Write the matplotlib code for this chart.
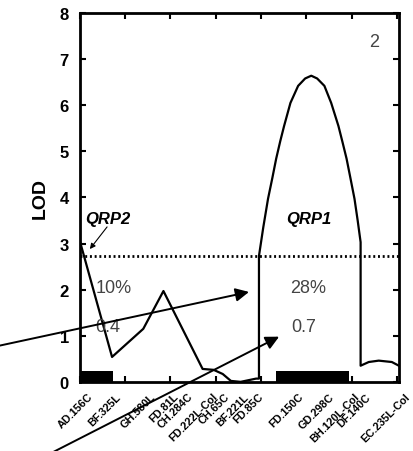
import matplotlib
matplotlib.use("Agg")
import matplotlib.pyplot as plt

plt.rcParams['font.family'] = ['Liberation Sans', 'DejaVu Sans']

# LOD profile (position in cM, LOD score)
pos = [0, 14.2, 28, 36.9, 54.2, 59.1, 63.1, 66.7, 71, 77.8, 79.1,
       79.1, 81, 83.1, 85, 86.7, 88.5, 90.2, 93, 96.4, 99.5, 102.2, 104.8,
       108, 111, 114.2, 116, 117.8, 119.5, 121.3, 122.7, 124,
       124, 127.6, 132, 137.8, 140.9]
lod = [3.05, 0.54, 1.15, 1.97, 0.28, 0.26, 0.17, 0.02, 0.0, 0.07, 0.07,
       2.73, 3.35, 3.97, 4.42, 4.84, 5.22, 5.55, 6.05, 6.42, 6.58, 6.64, 6.58,
       6.42, 6.05, 5.55, 5.2, 4.84, 4.42, 3.97, 3.5, 3.03,
       0.35, 0.43, 0.46, 0.43, 0.35]

markers = ["AD.156C", "BF.325L", "GH.580L", "FD.81L", "CH.284C", "FD.222L-Col",
           "CH.65C", "BF.221L", "FD.85C", "FD.150C", "GD.298C", "BH.120L-Col",
           "DF.140C", "EC.235L-Col"]
marker_pos = [3.5, 15.6, 31, 41, 47.5, 58.7, 63.6, 72.4, 78.7, 96.4, 110, 121,
              126, 143.3]

threshold = 2.73
qtl_bars = [(0, 14.7), (86.7, 118.7)]  # support intervals (start, end) cM

fig = plt.figure(figsize=(4.14, 4.52), dpi=100)
ax = fig.add_axes([0.193, 0.153, 0.771, 0.816])

ax.plot(pos, lod, color='black', lw=1.6)
ax.axhline(threshold, color='black', lw=2, linestyle=(0, (0.7, 1.0)))
for a, b in qtl_bars:
    ax.fill_between([a, b], 0, 0.24, color='black', lw=0)

ax.set_xlim(0, 141)
ax.set_ylim(0, 8)
ax.set_xticks(range(0, 141, 20))
ax.set_xticklabels([])
ax.set_yticks(range(0, 9))
ax.tick_params(direction='in', length=4, width=1.5, top=True, right=True,
               labelsize=12, pad=8)
for t in ax.get_yticklabels():
    t.set_fontweight('bold')
for s in ax.spines.values():
    s.set_linewidth(2)
ax.set_ylabel("LOD", fontsize=14, fontweight='bold', labelpad=8)

for name, x in zip(markers, marker_pos):
    ax.text(x, -0.2, name, rotation=45, ha='right', va='top',
            rotation_mode='anchor', fontsize=7.8, fontweight='bold',
            clip_on=False)

ax.text(12.2, 3.55, "QRP2", fontsize=12, fontweight='bold', style='italic',
        ha='center', va='center')
ax.text(101, 3.55, "QRP1", fontsize=12, fontweight='bold', style='italic',
        ha='center', va='center')
ax.annotate("", xy=(4.4, 2.88), xytext=(12, 3.36),
            arrowprops=dict(arrowstyle='-|>', color='black', lw=0.8,
                            mutation_scale=8, shrinkA=0, shrinkB=0))

grey = '#444444'
ax.text(15, 2.04, "10%", fontsize=13, color=grey, ha='center', va='center')
ax.text(12.4, 1.19, "0.4", fontsize=13, color=grey, ha='center', va='center')
ax.text(100.9, 2.04, "28%", fontsize=13, color=grey, ha='center', va='center')
ax.text(99, 1.19, "0.7", fontsize=13, color=grey, ha='center', va='center')
ax.text(129.8, 7.38, "2", fontsize=13, color=grey, ha='center', va='center')

ax.annotate("", xy=(74.7, 1.95), xytext=(-36, 0.78), annotation_clip=False,
            arrowprops=dict(arrowstyle='-|>', color='black', lw=1.4,
                            mutation_scale=20, shrinkA=0, shrinkB=0))
ax.annotate("", xy=(88, 0.98), xytext=(-13.3, -1.56), annotation_clip=False,
            arrowprops=dict(arrowstyle='-|>', color='black', lw=1.4,
                            mutation_scale=20, shrinkA=0, shrinkB=0))

fig.savefig("out.png", dpi=100)
